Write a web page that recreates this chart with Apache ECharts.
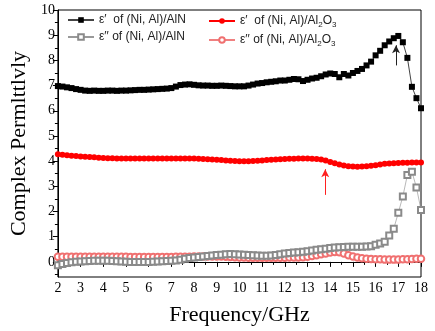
<!DOCTYPE html>
<html>
<head>
<meta charset="utf-8">
<script src="https://cdn.jsdelivr.net/npm/echarts@6/dist/echarts.min.js"></script>
<style>
  html, body { margin: 0; padding: 0; background: #fff; }
  #chart { width: 435px; height: 331px; }
</style>
</head>
<body>
<div id="chart"></div>
<script>
// frequency grid, GHz
var freq = [2.0, 2.2, 2.4, 2.6, 2.8, 3.0, 3.2, 3.4, 3.6, 3.8,
  4.0, 4.2, 4.4, 4.6, 4.8, 5.0, 5.2, 5.4, 5.6, 5.8,
  6.0, 6.2, 6.4, 6.6, 6.8, 7.0, 7.2, 7.4, 7.6, 7.8,
  8.0, 8.2, 8.4, 8.6, 8.8, 9.0, 9.2, 9.4, 9.6, 9.8,
  10.0, 10.2, 10.4, 10.6, 10.8, 11.0, 11.2, 11.4, 11.6, 11.8,
  12.0, 12.2, 12.4, 12.6, 12.8, 13.0, 13.2, 13.4, 13.6, 13.8,
  14.0, 14.2, 14.4, 14.6, 14.8, 15.0, 15.2, 15.4, 15.6, 15.8,
  16.0, 16.2, 16.4, 16.6, 16.8, 17.0, 17.2, 17.4, 17.6, 17.8, 18.0];

// ε' of (Ni, Al)/AlN
var epsRealAlN = [6.98, 6.96, 6.93, 6.90, 6.86, 6.83, 6.80, 6.79, 6.80, 6.79,
  6.79, 6.80, 6.80, 6.79, 6.80, 6.80, 6.81, 6.82, 6.83, 6.83,
  6.84, 6.85, 6.86, 6.87, 6.88, 6.90, 6.96, 7.02, 7.04, 7.05,
  7.03, 7.01, 7.00, 7.00, 6.99, 6.99, 7.00, 6.99, 6.98, 6.97,
  6.97, 6.97, 7.00, 7.04, 7.08, 7.10, 7.13, 7.15, 7.17, 7.20,
  7.20, 7.23, 7.26, 7.25, 7.18, 7.23, 7.28, 7.31, 7.37, 7.44,
  7.48, 7.46, 7.33, 7.46, 7.40, 7.50, 7.58, 7.66, 7.80, 7.95,
  8.20, 8.38, 8.60, 8.75, 8.88, 8.97, 8.72, 8.10, 6.95, 6.50, 6.10];

// ε'' of (Ni, Al)/AlN
var epsImagAlN = [-0.13, -0.08, -0.04, -0.01, 0.01, 0.02, 0.03, 0.04, 0.05, 0.05,
  0.05, 0.05, 0.04, 0.03, 0.02, 0.01, 0.00, 0.00, 0.00, 0.00,
  0.00, 0.01, 0.02, 0.03, 0.04, 0.05, 0.06, 0.08, 0.12, 0.15,
  0.17, 0.19, 0.21, 0.23, 0.25, 0.27, 0.28, 0.30, 0.31, 0.30,
  0.29, 0.28, 0.27, 0.26, 0.25, 0.24, 0.24, 0.25, 0.27, 0.30,
  0.33, 0.35, 0.37, 0.38, 0.40, 0.42, 0.45, 0.48, 0.50, 0.52,
  0.55, 0.57, 0.58, 0.59, 0.60, 0.60, 0.60, 0.60, 0.61, 0.62,
  0.68, 0.73, 0.80, 1.05, 1.32, 1.95, 2.60, 3.45, 3.58, 2.95, 2.06];

// ε' of (Ni, Al)/Al2O3
var epsRealAl2O3 = [4.27, 4.25, 4.23, 4.21, 4.20, 4.18, 4.17, 4.16, 4.15, 4.13,
  4.12, 4.11, 4.11, 4.10, 4.10, 4.10, 4.10, 4.10, 4.10, 4.10,
  4.10, 4.10, 4.10, 4.10, 4.10, 4.10, 4.10, 4.10, 4.10, 4.10,
  4.10, 4.09, 4.08, 4.07, 4.06, 4.05, 4.04, 4.03, 4.02, 4.01,
  4.00, 4.00, 4.00, 4.01, 4.02, 4.03, 4.04, 4.05, 4.06, 4.07,
  4.08, 4.09, 4.09, 4.10, 4.10, 4.10, 4.09, 4.08, 4.06, 4.03,
  3.97, 3.92, 3.87, 3.83, 3.80, 3.79, 3.78, 3.79, 3.80, 3.82,
  3.84, 3.87, 3.90, 3.91, 3.92, 3.93, 3.94, 3.94, 3.95, 3.95, 3.95];

// ε'' of (Ni, Al)/Al2O3
var epsImagAl2O3 = [0.20, 0.20, 0.20, 0.20, 0.20, 0.20, 0.20, 0.20, 0.20, 0.20,
  0.20, 0.20, 0.20, 0.20, 0.20, 0.20, 0.19, 0.19, 0.19, 0.19,
  0.19, 0.19, 0.19, 0.19, 0.19, 0.19, 0.20, 0.20, 0.20, 0.20,
  0.21, 0.21, 0.21, 0.21, 0.21, 0.21, 0.21, 0.20, 0.19, 0.18,
  0.17, 0.17, 0.16, 0.16, 0.16, 0.16, 0.16, 0.16, 0.16, 0.16,
  0.16, 0.17, 0.17, 0.17, 0.18, 0.20, 0.23, 0.26, 0.30, 0.33,
  0.37, 0.39, 0.38, 0.33, 0.26, 0.21, 0.17, 0.14, 0.12, 0.11,
  0.10, 0.10, 0.09, 0.09, 0.09, 0.09, 0.10, 0.10, 0.11, 0.12, 0.12];

var names = ['ε′  of (Ni, Al)/AlN', 'ε′′ of (Ni, Al)/AlN',
  'ε′  of (Ni, Al)/Al2O3', 'ε′′ of (Ni, Al)/Al2O3'];

var yMajor = [0, 1, 2, 3, 4, 5, 6, 7, 8, 9, 10];
var yMinor = [-0.5, 0.5, 1.5, 2.5, 3.5, 4.5, 5.5, 6.5, 7.5, 8.5, 9.5];

// arrows: [x, yFrom, yTo]
var arrowAlN = [16.9, 7.8, 8.6];
var arrowAl2O3 = [13.78, 2.66, 3.68];

function pairs(ys) {
  return freq.map(function (f, i) { return [f, ys[i]]; });
}

function arrow(a, color) {
  return {
    silent: true,
    symbol: ['none', 'arrow'],
    symbolSize: [6, 8],
    label: { show: false },
    lineStyle: { color: color, width: 1, type: 'solid' },
    data: [[{ coord: [a[0], a[1]] }, { coord: [a[0], a[2]] }]]
  };
}

var myChart = echarts.init(document.getElementById('chart'));

var serif = '"Liberation Serif", "Times New Roman", serif';
var sans = '"Liberation Sans", Arial, sans-serif';

var legendText = {
  fontFamily: sans,
  fontSize: 12,
  color: '#222',
  rich: {
    sub: { fontFamily: sans, fontSize: 8, color: '#222', padding: [8, 0, 0, 0] }
  }
};
function legendFmt(n) {
  return n.replace('Al2O3', 'Al{sub|2}O{sub|3}');
}

var option = {
  animation: false,
  backgroundColor: '#fff',
  grid: {
    left: 53, right: 14, top: 10, bottom: 50,
    show: true, borderColor: '#000', borderWidth: 1
  },
  legend: [{
    data: [names[0], names[1]],
    orient: 'vertical',
    left: 62, top: 9,
    itemWidth: 26, itemHeight: 7, itemGap: 5,
    textStyle: legendText,
    formatter: legendFmt
  }, {
    data: [names[2], names[3]],
    orient: 'vertical',
    left: 203, top: 10,
    itemWidth: 26, itemHeight: 7, itemGap: 5,
    textStyle: legendText,
    formatter: legendFmt
  }],
  xAxis: {
    type: 'value',
    min: 2, max: 18, interval: 1,
    name: 'Frequency/GHz',
    nameLocation: 'middle',
    nameGap: 27,
    nameTextStyle: { fontFamily: serif, fontSize: 22, color: '#000' },
    axisLine: { lineStyle: { color: '#000', width: 1 } },
    axisTick: { length: 5, lineStyle: { color: '#000' } },
    minorTick: { show: true, splitNumber: 2, length: 3, lineStyle: { color: '#000' } },
    axisLabel: { fontFamily: serif, fontSize: 14, color: '#000', margin: 4 },
    splitLine: { show: false }
  },
  yAxis: [{
    type: 'value',
    min: -0.6, max: 10,
    name: 'Complex Permlttlvly',
    nameLocation: 'middle',
    nameGap: 24,
    nameTextStyle: { fontFamily: serif, fontSize: 22, color: '#000' },
    axisLine: { show: true, lineStyle: { color: '#000', width: 1 } },
    axisTick: { show: true, length: 5, customValues: yMajor, lineStyle: { color: '#000' } },
    axisLabel: { customValues: yMajor, fontFamily: serif, fontSize: 14, color: '#000', margin: 3 },
    splitLine: { show: false }
  }, {
    type: 'value',
    position: 'left',
    min: -0.6, max: 10,
    axisLine: { show: false },
    axisTick: { show: true, length: 3, customValues: yMinor, lineStyle: { color: '#000' } },
    axisLabel: { show: false },
    splitLine: { show: false }
  }],
  series: [{
    name: names[0],
    type: 'line',
    data: pairs(epsRealAlN),
    symbol: 'rect',
    symbolSize: 6,
    itemStyle: { color: '#000' },
    lineStyle: { color: '#444', width: 1 },
    markLine: arrow(arrowAlN, '#222'),
    z: 4
  }, {
    name: names[1],
    type: 'line',
    data: pairs(epsImagAlN),
    symbol: 'emptyRect',
    symbolSize: 6,
    itemStyle: { color: '#8a8a8a', borderWidth: 0.7 },
    lineStyle: { color: '#999', width: 0.7 },
    z: 2
  }, {
    name: names[2],
    type: 'line',
    data: pairs(epsRealAl2O3),
    symbol: 'circle',
    symbolSize: 6,
    itemStyle: { color: '#ff0000' },
    lineStyle: { color: '#ff0000', width: 1 },
    markLine: arrow(arrowAl2O3, '#ff2020'),
    z: 3
  }, {
    name: names[3],
    type: 'line',
    data: pairs(epsImagAl2O3),
    symbol: 'emptyCircle',
    symbolSize: 6.5,
    itemStyle: { color: '#f07070', borderWidth: 0.7 },
    lineStyle: { color: '#f08080', width: 0.7 },
    z: 1
  }]
};

myChart.setOption(option);
window.onresize = function () {
  myChart.resize();
};
</script>
</body>
</html>
